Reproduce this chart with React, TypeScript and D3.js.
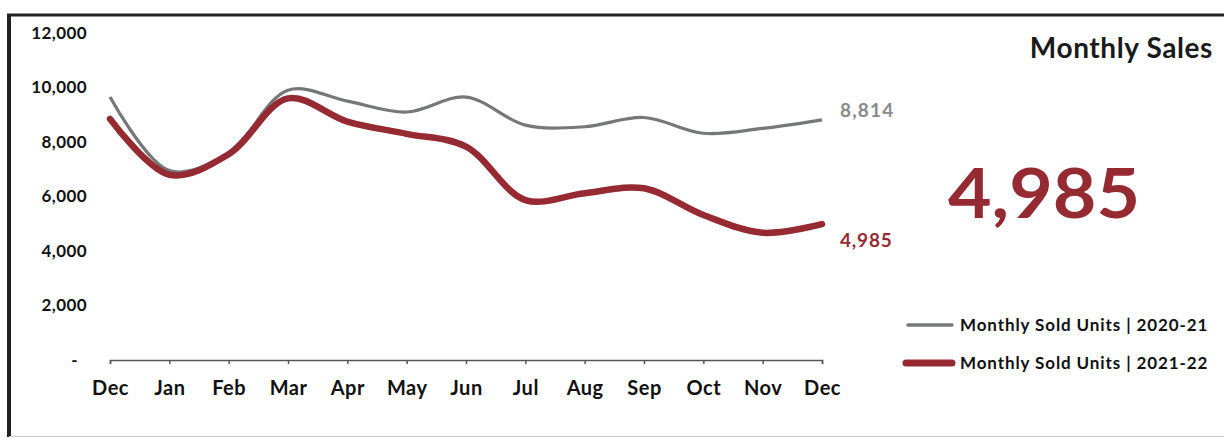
import React, { useEffect, useRef } from 'react';
import * as d3 from 'd3';

// months on the x axis (Dec 2020/21 through Dec)
const months = ['Dec', 'Jan', 'Feb', 'Mar', 'Apr', 'May', 'Jun', 'Jul', 'Aug', 'Sep', 'Oct', 'Nov', 'Dec'];
const sales2021 = [9650, 6950, 7600, 9900, 9500, 9100, 9650, 8620, 8560, 8900, 8320, 8500, 8814];
const sales2122 = [8850, 6800, 7550, 9600, 8750, 8300, 7830, 5870, 6120, 6300, 5320, 4670, 4985];
const yTicks = [0, 2000, 4000, 6000, 8000, 10000, 12000];
const legendLabels = ['Monthly Sold Units | 2020-21', 'Monthly Sold Units | 2021-22'];

const W = 1224;
const H = 439;
const GRAY = '#767778';
const RED = '#952a33';
const FONT = 'Lato, "Open Sans", sans-serif';

const App: React.FC = () => {
  const ref = useRef<SVGSVGElement>(null);

  useEffect(() => {
    const svg = d3.select(ref.current);
    svg.selectAll('*').remove();

    const x = d3.scalePoint<number>().domain(d3.range(months.length)).range([110, 822]);
    const y = d3.scaleLinear().domain([0, 12000]).range([360, 33]);

    // frame
    svg.append('line').attr('x1', 7).attr('x2', W).attr('y1', 15).attr('y2', 15)
      .attr('stroke', '#222').attr('stroke-width', 3);
    svg.append('line').attr('x1', 9).attr('x2', 9).attr('y1', 14).attr('y2', 437)
      .attr('stroke', '#222').attr('stroke-width', 4);
    svg.append('line').attr('x1', 9).attr('x2', W).attr('y1', 436.5).attr('y2', 436.5)
      .attr('stroke', '#c8c8c8').attr('stroke-width', 1);

    // y axis labels only
    const yAxis = svg.append('g')
      .attr('transform', 'translate(87,0)')
      .call(d3.axisLeft(y).tickValues(yTicks).tickSize(0).tickPadding(0)
        .tickFormat(d => (+d === 0 ? '-' : d3.format(',')(+d))));
    yAxis.select('.domain').remove();
    yAxis.selectAll('text')
      .attr('font-family', FONT).attr('font-weight', 700).attr('font-size', 17)
      .attr('letter-spacing', 0.4)
      .attr('fill', '#111')
      .attr('dx', d => (+d === 0 ? -9 : 0));

    // x axis
    const xAxis = svg.append('g')
      .attr('transform', 'translate(0,360)')
      .call(d3.axisBottom(x).tickSize(4).tickSizeOuter(4).tickPadding(17)
        .tickFormat(i => months[+i]));
    xAxis.select('.domain').attr('stroke', '#555').attr('stroke-width', 1.5);
    xAxis.selectAll('line').attr('stroke', '#555').attr('stroke-width', 1.5);
    xAxis.selectAll('text')
      .attr('font-family', FONT).attr('font-weight', 700).attr('font-size', 20)
      .attr('letter-spacing', 0.5)
      .attr('fill', '#111');

    const line = d3.line<number>()
      .x((_, i) => x(i)!)
      .y(d => y(d))
      .curve(d3.curveCatmullRom.alpha(0.5));

    svg.append('path').datum(sales2021)
      .attr('fill', 'none').attr('stroke', GRAY).attr('stroke-width', 3.2)
      .attr('d', line);
    svg.append('path').datum(sales2122)
      .attr('fill', 'none').attr('stroke', RED).attr('stroke-width', 6.5)
      .attr('stroke-linecap', 'round')
      .attr('d', line);

    // end labels
    const last = months.length - 1;
    svg.append('text')
      .attr('x', 840).attr('y', y(sales2021[last]) - 3)
      .attr('font-family', FONT).attr('font-weight', 700).attr('font-size', 19)
      .attr('fill', '#8a8a8a').attr('letter-spacing', 1.2)
      .text(d3.format(',')(sales2021[last]));
    svg.append('text')
      .attr('x', 840).attr('y', y(sales2122[last]) + 23)
      .attr('font-family', FONT).attr('font-weight', 700).attr('font-size', 19)
      .attr('fill', RED).attr('letter-spacing', 0.8)
      .text(d3.format(',')(sales2122[last]));

    // title + headline number
    svg.append('text')
      .attr('x', 1213).attr('y', 58).attr('text-anchor', 'end')
      .attr('font-family', FONT).attr('font-weight', 700).attr('font-size', 28)
      .attr('letter-spacing', 0.6)
      .attr('fill', '#1a1a1a')
      .text('Monthly Sales');
    svg.append('text')
      .attr('x', 1044).attr('y', 218).attr('text-anchor', 'middle')
      .attr('font-family', FONT).attr('font-weight', 700).attr('font-size', 68)
      .attr('fill', RED)
      .attr('textLength', 192).attr('lengthAdjust', 'spacingAndGlyphs')
      .text(d3.format(',')(sales2122[last]));

    // legend
    const legend = svg.append('g').attr('transform', 'translate(908,325)');
    [GRAY, RED].forEach((c, i) => {
      const row = legend.append('g').attr('transform', `translate(0,${i * 38})`);
      row.append('line').attr('x1', i ? -2 : 0).attr('x2', 44).attr('y1', 0).attr('y2', 0)
        .attr('stroke', c).attr('stroke-width', i ? 7 : 3.5).attr('stroke-linecap', 'round');
      row.append('text').attr('x', 52).attr('y', 6)
        .attr('font-family', FONT).attr('font-weight', 700).attr('font-size', 17)
        .attr('letter-spacing', 0.9)
        .attr('fill', '#111')
        .text(legendLabels[i]);
    });
  }, []);

  return (
    <svg ref={ref} width={W} height={H}
      style={{ position: 'absolute', left: 0, top: 0, background: '#fff' }} />
  );
};

export default App;
